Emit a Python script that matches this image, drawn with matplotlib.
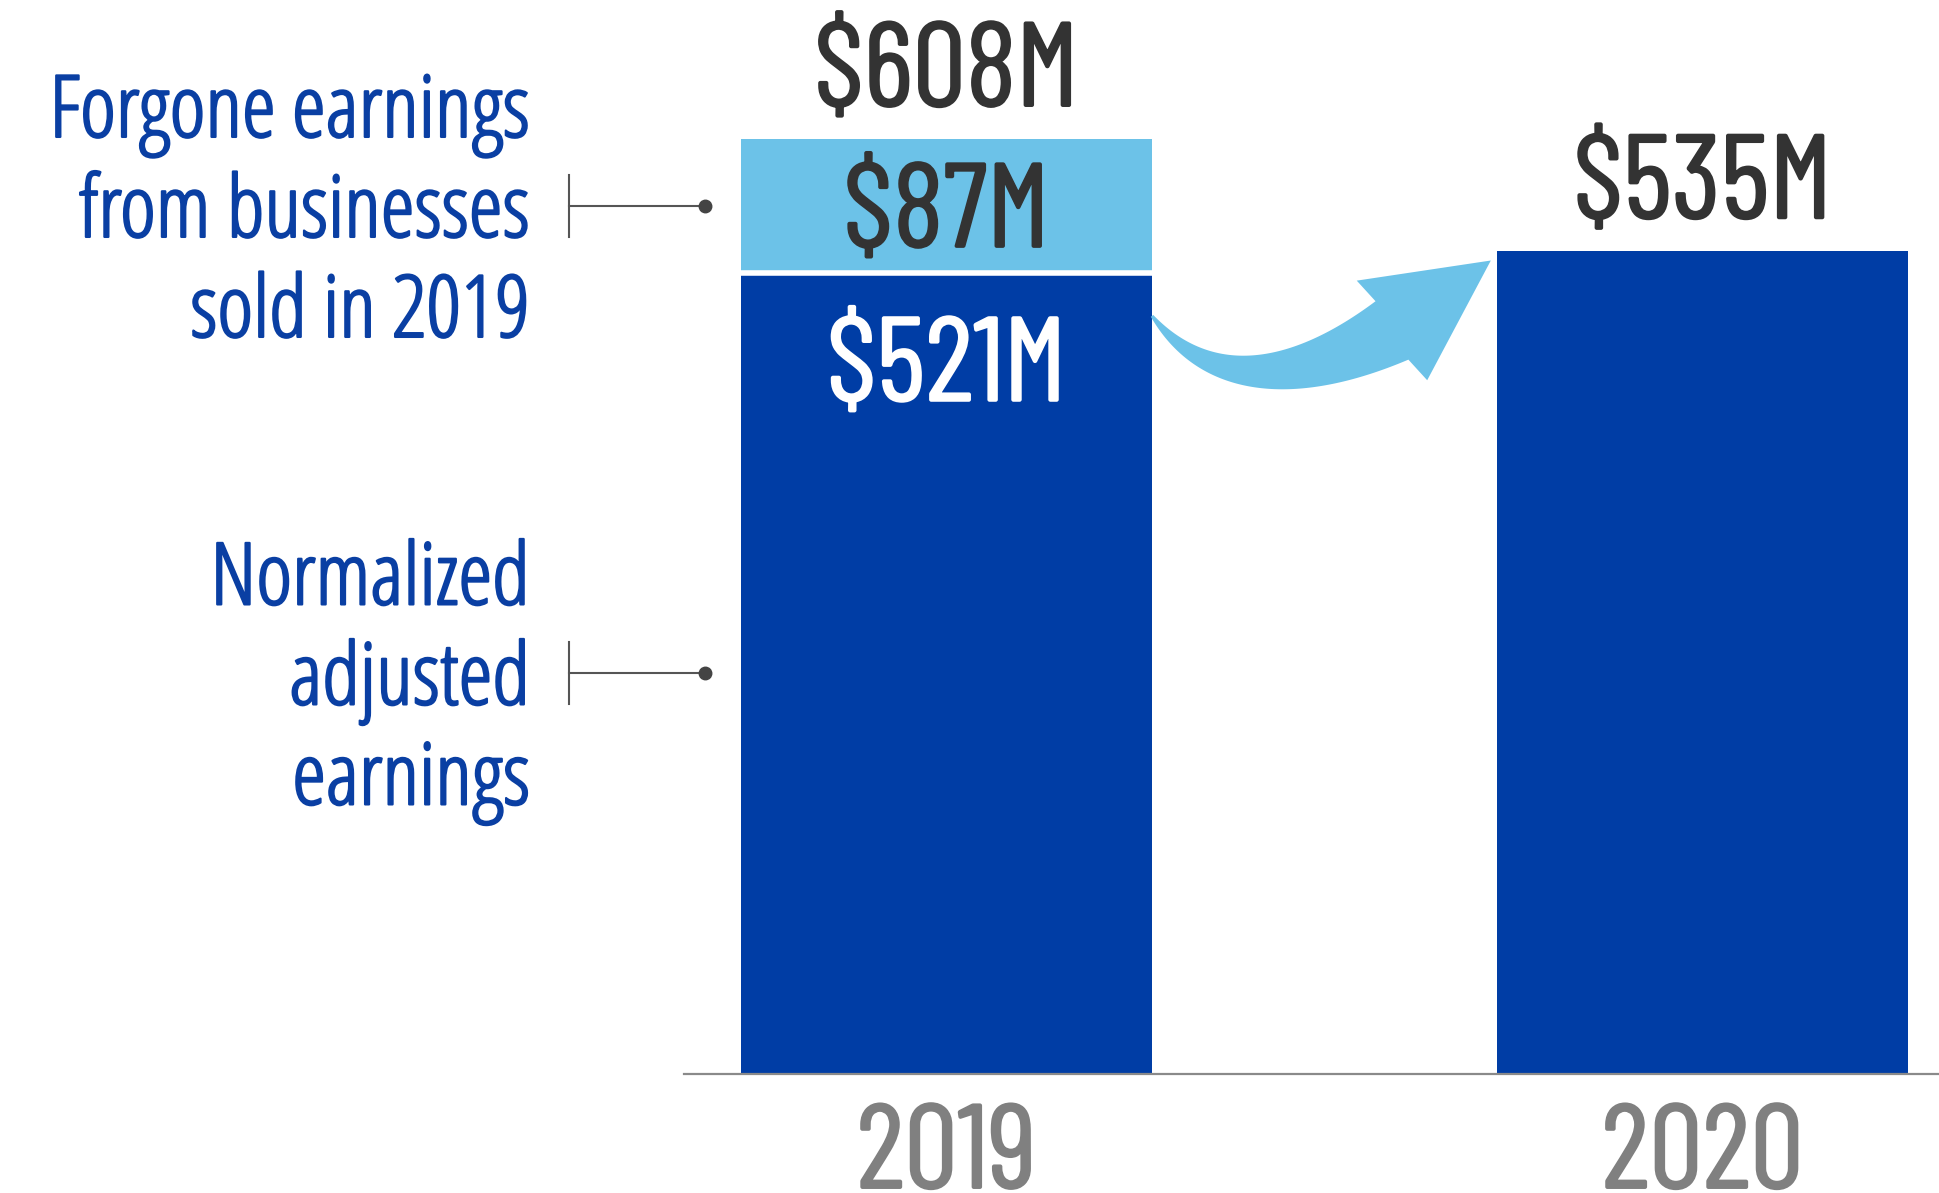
import matplotlib

matplotlib.use("Agg")
import matplotlib.patheffects as pe
import matplotlib.pyplot as plt
import numpy as np
from matplotlib import font_manager
from matplotlib.font_manager import FontProperties
from matplotlib.lines import Line2D
from matplotlib.patches import Polygon
from matplotlib.transforms import IdentityTransform

# data ($M)
years = ["2019", "2020"]
normalized = [521, 535]
forgone = [87, 0]
forgone_text = ["Forgone earnings", "from businesses", "sold in 2019"]
normalized_text = ["Normalized", "adjusted", "earnings"]

DARK = "#003DA5"
LIGHT = "#6CC2E8"
TEXT_DARK = "#333333"
YEAR_GRAY = "#808080"
LABEL_BLUE = "#0A3FA3"

W, H = 1940, 1193
PT = 72 / 100  # pixels -> points at dpi 100


def pick_font(match, weight):
    hits = [f for f in font_manager.fontManager.ttflist if f.style == "normal" and match(f)]
    if not hits:
        return None
    return min(hits, key=lambda f: abs((f.weight if isinstance(f.weight, int) else 400) - weight))


def fprops(entry, size, fallback="DejaVu Sans"):
    if entry is None:
        return FontProperties(family=fallback, stretch="condensed", size=size)
    fp = FontProperties(fname=entry.fname)
    fp.set_size(size)
    return fp


def thick(color, lw):
    return [pe.withStroke(linewidth=lw, foreground=color)]


num_font = pick_font(lambda f: f.name == "Barlow Condensed", 400)
lbl_font = pick_font(lambda f: f.name.startswith("Open Sans")
                     and ("Condensed" in f.name or f.stretch == "condensed"), 400)
if lbl_font is None:
    lbl_font = pick_font(lambda f: f.name == "Fira Sans Condensed", 400)

fig = plt.figure(figsize=(W / 100, H / 100), dpi=100)
ax = fig.add_axes([684 / W, 1 - 1074 / H, 1 - 684 / W, 1074 / H])

x = [0, 1]
width = 0.544
ax.bar(x, normalized, width, color=DARK, linewidth=0, zorder=1)
ax.bar(x, forgone, width, bottom=normalized, color=LIGHT, linewidth=0, zorder=1)
for xi, n, f in zip(x, normalized, forgone):
    if f > 0:
        ax.hlines(n, xi - width / 2, xi + width / 2, color="white", lw=4, zorder=2)

ax.set_xlim(-0.347, 1.314)
ax.set_ylim(0, 698.4)
for side in ["left", "right", "top"]:
    ax.spines[side].set_visible(False)
ax.spines["bottom"].set_color("#8a8a8a")
ax.spines["bottom"].set_linewidth(1.6)
ax.set_yticks([])
ax.set_xticks([])

num_fp = fprops(num_font, 86)
for xi, year in zip(x, years):
    ax.annotate(year, (xi, 0), xytext=(0, -114 * PT), textcoords="offset points",
                ha="center", va="baseline", color=YEAR_GRAY, fontproperties=num_fp,
                path_effects=thick(YEAR_GRAY, 1.4))

# value labels
for xi, n, f in zip(x, normalized, forgone):
    total = n + f
    ax.annotate(f"${total}M", (xi, total), xytext=(0, 33 * PT), textcoords="offset points",
                ha="center", va="baseline", color=TEXT_DARK, fontproperties=num_fp,
                path_effects=thick(TEXT_DARK, 1.4))
    if f > 0:
        ax.annotate(f"${f}M", (xi, n + f / 2), xytext=(0, -41 * PT), textcoords="offset points",
                    ha="center", va="baseline", color=TEXT_DARK, fontproperties=num_fp,
                    path_effects=thick(TEXT_DARK, 1.4))
        ax.annotate(f"${n}M", (xi, n), xytext=(0, -128 * PT), textcoords="offset points",
                    ha="center", va="baseline", color="white", fontproperties=num_fp,
                    path_effects=thick("white", 1.4))


# side labels with connectors
def fig_y(value):
    return ax.transData.transform((0, value))[1] / H


lbl_fp = fprops(lbl_font, 62, "Open Sans")
for lines, mid in [(forgone_text, normalized[0] + forgone[0] / 2),
                   (normalized_text, normalized[0] / 2)]:
    yc = fig_y(mid)
    for i, line in enumerate(lines):
        fig.text(530 / W, yc + ((1 - i) * 100 - 31) / H, line, ha="right", va="baseline",
                 color=LABEL_BLUE, fontproperties=lbl_fp, path_effects=thick(LABEL_BLUE, 1.6))
    fig.add_artist(Line2D([569 / W, 569 / W], [yc - 31 / H, yc + 31 / H], color="#555555", lw=1.5))
    fig.add_artist(Line2D([569 / W, 705 / W], [yc, yc], color="#555555", lw=1.5))
    fig.add_artist(Line2D([705 / W], [yc], marker="o", markersize=9, color="#444444", lw=0))

# curved arrow from the 2019 bar to the 2020 bar (display pixels, y up)
p0 = ax.transData.transform((x[0] + width / 2, normalized[0] - 28))
p3 = ax.transData.transform((x[1] - width / 2 - 0.008, normalized[1] + forgone[1] - 6))
c1 = p0 + 115 * np.array([0.6, -0.8])
c2 = p3 - 190 * np.array([0.766, 0.643])
t = np.linspace(0, 1, 400)[:, None]
curve = ((1 - t) ** 3) * p0 + 3 * ((1 - t) ** 2) * t * c1 + 3 * (1 - t) * t ** 2 * c2 + t ** 3 * p3
seg = np.hypot(*np.diff(curve, axis=0).T)
arc = np.concatenate([[0], np.cumsum(seg)])
head_len, head_w = 122, 122
ib = np.searchsorted(arc, arc[-1] - head_len)
body = curve[: ib + 1]
tang = np.gradient(body, axis=0)
tang /= np.hypot(*tang.T)[:, None]
norm = np.column_stack([-tang[:, 1], tang[:, 0]])
frac = arc[: ib + 1] / arc[ib]
half = (3 + 64 * frac) / 2
upper = body + norm * half[:, None]
lower = body - norm * half[:, None]
base = curve[ib]
hdir = (p3 - base) / np.hypot(*(p3 - base))
hn = np.array([-hdir[1], hdir[0]])
head = np.array([base + hn * head_w / 2, p3, base - hn * head_w / 2])
arrow_pts = np.vstack([upper, head, lower[::-1]])
fig.add_artist(Polygon(arrow_pts, closed=True, facecolor=LIGHT, edgecolor="none",
                       transform=IdentityTransform(), zorder=3))

fig.savefig("out.png", dpi=100)
